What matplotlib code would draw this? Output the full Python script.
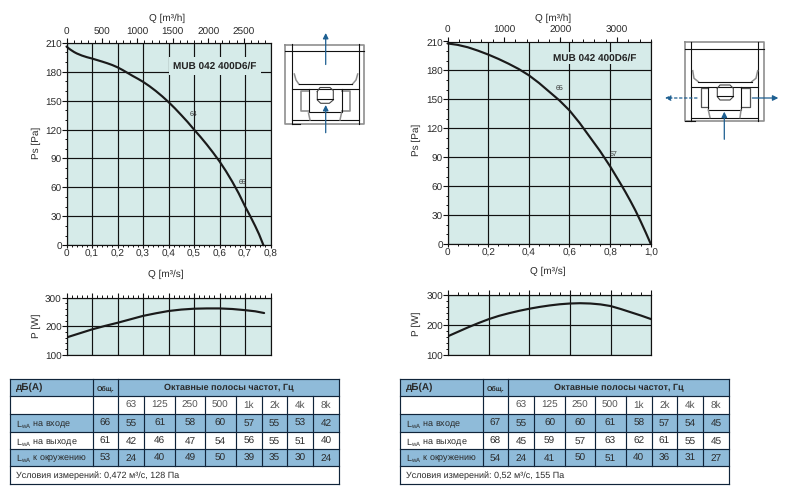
import matplotlib
matplotlib.use('Agg')
import matplotlib.pyplot as plt
from matplotlib.patches import Rectangle
from matplotlib.ticker import MultipleLocator, FuncFormatter
from matplotlib.transforms import ScaledTranslation

plt.rcParams['font.family'] = ['Liberation Sans', 'DejaVu Sans']
plt.rcParams['mathtext.default'] = 'regular'
plt.rcParams['text.hinting'] = 'no_hinting'
plt.rcParams['text.hinting_factor'] = 1

W, H = 786, 500
TEAL = '#d6ebe9'
BLUE = '#8fbbd9'
ARROW = '#1d5f91'
TXT = '#2a2a2a'

# left unit: pressure and power curves
q_left = [0, 0.01, 0.02, 0.03, 0.04, 0.06, 0.08, 0.1, 0.12, 0.14, 0.16, 0.18, 0.2, 0.22, 0.24, 0.26, 0.28, 0.3,
          0.325, 0.35, 0.375, 0.4, 0.425, 0.45, 0.475, 0.5, 0.525, 0.55, 0.575, 0.6, 0.625, 0.65, 0.675, 0.7,
          0.72, 0.74, 0.755, 0.7725]
ps_left = [206, 203.8, 202, 200.3, 198.9, 196.7, 195, 193.6, 192, 190.4, 188.7, 186.8, 184.5, 181.7, 178.6, 175.5, 172.6, 169.5,
           165, 160, 154.5, 148.5, 142, 135, 127.8, 120, 112.5, 104.5, 96, 87, 77, 66, 54, 40.5,
           30.5, 20, 11.5, 0]
q_left_p = [0, 0.05, 0.1, 0.15, 0.2, 0.25, 0.3, 0.35, 0.4, 0.45, 0.5, 0.55, 0.6, 0.65, 0.7, 0.74, 0.775]
p_left = [161, 175, 189, 201, 212, 224, 236, 245, 253, 258, 261, 262, 262, 260, 256, 252, 246]

# right unit
q_right = [0, 0.05, 0.1, 0.15, 0.2, 0.25, 0.3, 0.35, 0.4, 0.45, 0.5, 0.55, 0.6, 0.65, 0.7,
           0.75, 0.8, 0.85, 0.875, 0.9, 0.925, 0.95, 0.975, 1.0]
ps_right = [208, 206.5, 204, 200.5, 196.5, 192, 187, 181.5, 175, 167, 158, 149, 138.5, 125.5, 111,
            96.5, 80.5, 63, 54, 44.5, 34.5, 23.5, 12, 0]
q_right_p = [0, 0.05, 0.1, 0.15, 0.2, 0.25, 0.3, 0.35, 0.4, 0.45, 0.5, 0.55, 0.6, 0.65, 0.7, 0.75, 0.8, 0.85, 0.9, 0.95, 1.0]
p_right = [163, 178, 193, 207, 220, 231, 240, 248, 255, 261, 266, 270, 272.5, 273.5, 272.5, 269.5, 264, 254, 243, 232, 220]

models = ['MUB 042 400D6/F', 'MUB 042 400D6/F']
freqs = ['63', '125', '250', '500', '1k', '2k', '4k', '8k']
row_names = ['на входе', 'на выходе', 'к окружению']
total_left = [66, 61, 53]
bands_left = [[55, 61, 58, 60, 57, 55, 53, 42],
              [42, 46, 47, 54, 56, 55, 51, 40],
              [24, 40, 49, 50, 39, 35, 30, 24]]
total_right = [67, 68, 54]
bands_right = [[55, 60, 60, 61, 58, 57, 54, 45],
               [45, 59, 57, 63, 62, 61, 55, 45],
               [24, 41, 50, 51, 40, 36, 31, 27]]
cond_left = 'Условия измерений: 0,472 м³/с, 128 Па'
cond_right = 'Условия измерений: 0,52 м³/с, 155 Па'

fig = plt.figure(figsize=(W / 100, H / 100), dpi=100, facecolor='white')


def px_axes(x0, y0, x1, y1, **kw):
    return fig.add_axes([x0 / W, 1 - y1 / H, (x1 - x0) / W, (y1 - y0) / H], **kw)


def comma(v, _):
    return '0' if abs(v) < 1e-9 else f'{v:.1f}'.replace('.', ',')


def style(ax):
    ax.set_facecolor(TEAL)
    ax.grid(True, which='major', color='#111111', lw=0.85)
    ax.set_axisbelow(True)
    for s in ax.spines.values():
        s.set_color('#111111')
        s.set_linewidth(0.85)
    ax.tick_params(which='major', length=3.4, width=0.8, color='#111111', labelsize=7.3, labelcolor=TXT, pad=0)
    ax.tick_params(which='minor', length=1.8, width=0.7, color='#111111')
    ax.tick_params(axis='x', which='major', length=2.2, pad=1)
    ax.tick_params(axis='x', which='minor', length=1.4)


def nudge_ylabels(ax):
    # value labels sit a little under their ticks
    shift = ScaledTranslation(0, -1.3 / 100, fig.dpi_scale_trans)
    for lab in ax.yaxis.get_majorticklabels():
        lab.set_transform(lab.get_transform() + shift)


def pressure_panel(box, q, ps, qmax, step, minor, top_major, top_minor, labels):
    ax = px_axes(*box)
    style(ax)
    ax.plot(q, ps, color='#1a1a1a', lw=1.55, solid_capstyle='round', solid_joinstyle='round', clip_on=False)
    ax.set_xlim(0, qmax)
    ax.set_ylim(0, 210)
    ax.xaxis.set_major_locator(MultipleLocator(step))
    ax.xaxis.set_minor_locator(MultipleLocator(minor))
    ax.xaxis.set_major_formatter(FuncFormatter(comma))
    ax.yaxis.set_major_locator(MultipleLocator(30))
    ax.yaxis.set_minor_locator(MultipleLocator(10))
    nudge_ylabels(ax)
    top = ax.twiny()
    top.set_xlim(0, qmax * 3600)
    top.xaxis.set_major_locator(MultipleLocator(top_major))
    top.xaxis.set_minor_locator(MultipleLocator(top_minor))
    top.xaxis.set_major_formatter(FuncFormatter(lambda v, _: f'{v:.0f}'))
    top.tick_params(which='major', length=3.4, width=0.8, color='#111111', labelsize=7.1, labelcolor=TXT, pad=1)
    top.tick_params(which='minor', length=2.2, width=0.7, color='#111111')
    for s in top.spines.values():
        s.set_visible(False)
    for text, x, y in labels:
        ax.text(x, y, text, fontsize=4.8, color='#333333', ha='center', va='center')
    return ax


def power_panel(box, q, p, qmax, step, minor):
    ax = px_axes(*box)
    style(ax)
    ax.plot(q, p, color='#1a1a1a', lw=1.55, solid_capstyle='round', solid_joinstyle='round')
    ax.set_xlim(0, qmax)
    ax.set_ylim(100, 300)
    ax.xaxis.set_major_locator(MultipleLocator(step))
    ax.xaxis.set_minor_locator(MultipleLocator(minor))
    ax.yaxis.set_major_locator(MultipleLocator(100))
    ax.yaxis.set_minor_locator(MultipleLocator(20))
    nudge_ylabels(ax)
    ax.tick_params(axis='x', which='both', top=True, bottom=False, labelbottom=False)
    ax.tick_params(axis='x', which='major', length=3.8)
    ax.tick_params(axis='x', which='minor', length=2.2)
    return ax


pressure_panel((66.5, 42.7, 270.5, 245.3), q_left, ps_left, 0.8, 0.1, 0.02, 500, 100,
               [('64', 0.497, 136), ('65', 0.689, 66)])
pressure_panel((447.5, 41.5, 650.8, 244), q_right, ps_right, 1.0, 0.2, 0.05, 1000, 200,
               [('65', 0.549, 161.6), ('67', 0.815, 93.3)])
power_panel((66.5, 297.5, 270.5, 355), q_left_p, p_left, 0.8, 0.1, 0.02)
power_panel((448, 295.3, 651.3, 355), q_right_p, p_right, 1.0, 0.2, 0.05)

# overlay in pixel coordinates for labels, tables and the airflow sketches
ov = fig.add_axes([0, 0, 1, 1], zorder=5)
ov.set_xlim(0, W)
ov.set_ylim(H, 0)
ov.axis('off')
ov.patch.set_alpha(0)

for xtop, xbot, ybot, lab_x, ylab, y_p in [(166.7, 166, 274, 36, 143, 326), (552.7, 547.7, 271.7, 416.7, 140, 324)]:
    ov.text(xtop, 18, 'Q [m³/h]', fontsize=7, color=TXT, ha='center', va='center')
    ov.text(xbot, ybot, 'Q [m³/s]', fontsize=7, color=TXT, ha='center', va='center')
    ov.text(lab_x, ylab, 'Ps [Pa]', fontsize=7, color=TXT, rotation=90, ha='center', va='center')
    ov.text(lab_x, y_p, 'P [W]', fontsize=7, color=TXT, rotation=90, ha='center', va='center')

ov.text(215, 66, models[0], fontsize=7.3, fontweight='bold', color='#222222', ha='center', va='center',
        bbox=dict(facecolor=TEAL, edgecolor='none', pad=3))
ov.text(594.5, 58, models[1], fontsize=7.3, fontweight='bold', color='#222222', ha='center', va='center',
        bbox=dict(facecolor=TEAL, edgecolor='none', pad=0.8))

col_x = [10.3, 92.5, 118.3, 144.3, 175, 205, 235.7, 261.7, 287.3, 313.3, 339.3]
row_y = [378.5, 395.5, 414.3, 431.7, 449.3, 466.3, 484]


def draw_table(dx, totals, bands, cond):
    xs = [x + dx for x in col_x]
    # shaded rows first, rules on top
    for r in (0, 2, 4):
        ov.add_patch(Rectangle((xs[0], row_y[r]), xs[-1] - xs[0], row_y[r + 1] - row_y[r], fc=BLUE, ec='none'))
    for y in row_y:
        ov.plot([xs[0], xs[-1]], [y, y], color='#10243a', lw=0.85)
    for x in (xs[0], xs[-1]):
        ov.plot([x, x], [row_y[0], row_y[-1]], color='#10243a', lw=0.85)
    for x in xs[1:3]:
        ov.plot([x, x], [row_y[0], row_y[5]], color='#10243a', lw=0.85)
    for x in xs[3:-1]:
        ov.plot([x, x], [row_y[1], row_y[5]], color='#10243a', lw=0.85)

    cx = [(a + b) / 2 for a, b in zip(xs[:-1], xs[1:])]
    # text shares a baseline across each row
    base = [(a + b) / 2 + 3.4 for a, b in zip(row_y[:-1], row_y[1:])]
    ov.text(xs[0] + 5.5, base[0], 'дБ(А)', fontsize=7, fontweight='bold', color=TXT, ha='left', va='baseline')
    ov.text(cx[1], base[0], 'Общ.', fontsize=5.4, fontweight='bold', color=TXT, ha='center', va='baseline')
    ov.text((xs[2] + xs[-1]) / 2, base[0], 'Октавные полосы частот, Гц', fontsize=6.6, fontweight='bold', color=TXT,
            ha='center', va='baseline')
    for f, x in zip(freqs, cx[2:]):
        ov.text(x, base[1], f, fontsize=7.2, color='#555555', ha='center', va='baseline')
    for r, name in enumerate(row_names):
        y = base[r + 2]
        ov.text(xs[0] + 5.5, y, 'L$_{wA}$ ' + name, fontsize=6.6, color=TXT, ha='left', va='baseline')
        ov.text(cx[1], y, str(totals[r]), fontsize=7.2, color=TXT, ha='center', va='baseline')
        for v, x in zip(bands[r], cx[2:]):
            ov.text(x, y, str(v), fontsize=7.2, color=TXT, ha='center', va='baseline')
    ov.text(xs[0] + 5.5, base[5], cond, fontsize=6.6, color=TXT, ha='left', va='baseline')


draw_table(0, total_left, bands_left, cond_left)
draw_table(390, total_right, bands_right, cond_right)


def stroke(points, color='#111111', lw=0.8, **kw):
    ov.plot([p[0] for p in points], [p[1] for p in points], color=color, lw=lw, **kw)


def arrow(start, end, dashed=False):
    ov.annotate('', xy=end, xytext=start,
                arrowprops=dict(arrowstyle='-|>', color=ARROW, lw=0.9, mutation_scale=8, shrinkA=0, shrinkB=0,
                                linestyle=(0, (2, 2)) if dashed else '-'))


GREY = '#8f8f8f'

# single-outlet unit
stroke([(284.5, 44.5), (364.3, 44.5), (364.3, 124), (284.5, 124), (284.5, 44.5)], GREY, 1.2)
stroke([(291.5, 44), (291.5, 124)])
stroke([(358.5, 44), (358.5, 124)])
stroke([(284.5, 50.7), (364.3, 50.7)])
stroke([(291.5, 89.3), (358.5, 89.3)])
stroke([(291.5, 120), (358.5, 120)])
stroke([(291.5, 124), (300, 124)])
stroke([(294.3, 74), (296, 80), (299, 84.3)], GREY, 1.1)
stroke([(352.3, 84.3), (356, 80), (357.7, 74)], GREY, 1.1)
stroke([(299, 84.3), (352.3, 84.3)])
stroke([(308.5, 111), (300.5, 111), (300.5, 90.7), (308.5, 90.7)], GREY, 1.2)
stroke([(341.5, 111), (349.5, 111), (349.5, 90.7), (341.5, 90.7)], GREY, 1.2)
stroke([(308.5, 89.3), (308.5, 112), (341.5, 112), (341.5, 89.3)])
stroke([(317.3, 91.5), (320, 87.5), (330, 87.5), (333.3, 90.5), (333.3, 100), (329.3, 103.3), (320.7, 103.3),
        (317.3, 100), (317.3, 91.5)], '#444444')
stroke([(317.3, 98.5), (333.3, 98.5)])
stroke([(308.5, 113), (310, 120)], GREY, 1.1)
stroke([(341.5, 113), (340, 120)], GREY, 1.1)
arrow((325.7, 64.5), (325.7, 33))
arrow((325.7, 132.7), (325.7, 105))

# double-outlet unit
stroke([(685, 41.5), (764.3, 41.5), (764.3, 121), (685, 121), (685, 41.5)], GREY, 1.2)
stroke([(691.3, 41.5), (691.3, 121)])
stroke([(758, 41.5), (758, 121)])
stroke([(685, 48.7), (764.3, 48.7)])
stroke([(691.3, 86.7), (758, 86.7)])
stroke([(691.3, 117.5), (758, 117.5)])
stroke([(685, 121), (695, 121)])
stroke([(692.7, 70.7), (694, 78.3), (698.3, 81.7)], GREY, 1.1)
stroke([(751.7, 81.7), (756, 78.3), (757.7, 70.7)], GREY, 1.1)
stroke([(698.3, 81.7), (751.7, 81.7)])
stroke([(708.3, 107.3), (701, 107.3), (701, 88.3), (708.3, 88.3)], '#555555', 0.9)
stroke([(741, 107.3), (749.7, 107.3), (749.7, 88.3), (741, 88.3)], '#555555', 0.9)
stroke([(708.3, 86.7), (708.3, 110), (741, 110), (741, 86.7)])
stroke([(717.3, 88.3), (720, 85), (730, 85), (733.3, 88.3), (733.3, 96.7), (730, 100), (720, 100), (717.3, 96.7),
        (717.3, 88.3)], '#444444')
stroke([(717.3, 96), (733.3, 96)])
stroke([(708.3, 110), (710, 117.5)], GREY, 1.1)
stroke([(741, 110), (740, 117.5)], GREY, 1.1)
arrow((724.3, 139.3), (724.3, 111.7))
arrow((752.3, 98), (778.3, 98))
arrow((697, 98), (665, 98), dashed=True)

fig.savefig('out.png', dpi=100)
